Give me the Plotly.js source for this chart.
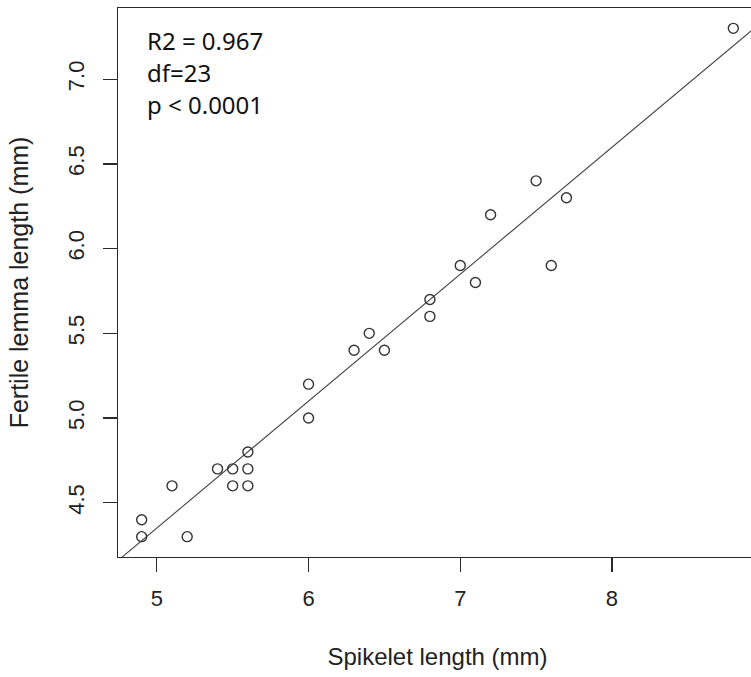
<!DOCTYPE html>
<html>
<head>
<meta charset="utf-8">
<script src="https://cdn.plot.ly/plotly-3.0.1.min.js"></script>
<style>
html, body { margin: 0; padding: 0; overflow: hidden; background: #fff; }
#chart { width: 760px; height: 677px; }
</style>
</head>
<body>
<div id="chart"></div>
<script>
// Data
const spikeletLength = [4.9, 4.9, 5.1, 5.2, 5.4, 5.5, 5.5, 5.6, 5.6, 5.6, 6.0, 6.0, 6.3, 6.4, 6.5, 6.8, 6.8, 7.0, 7.1, 7.2, 7.5, 7.6, 7.7, 8.8];
const lemmaLength    = [4.4, 4.3, 4.6, 4.3, 4.7, 4.7, 4.6, 4.8, 4.7, 4.6, 5.2, 5.0, 5.4, 5.5, 5.4, 5.7, 5.6, 5.9, 5.8, 6.2, 6.4, 5.9, 6.3, 7.3];
const fitIntercept = 0.606;
const fitSlope = 0.749;
const statsLines = ["R2 = 0.967", "df=23", "p < 0.0001"];
const xTicks = [5, 6, 7, 8];
const yTicks = [4.5, 5.0, 5.5, 6.0, 6.5, 7.0];
const yTickText = ["4.5", "5.0", "5.5", "6.0", "6.5", "7.0"];

const xRange = [4.744, 8.956];
const yRange = [4.18, 7.42];

const lineX = [xRange[0] - 1, xRange[1] + 1];
const lineY = lineX.map(x => fitIntercept + fitSlope * x);

const ink = '#2a2a2a';
const tickFont = { family: 'Liberation Sans, Arial, sans-serif', size: 22, color: '#222' };
const xTitleFont = { family: 'Liberation Sans, Arial, sans-serif', size: 24, color: '#222' };
const yTitleFont = { family: 'Liberation Sans, Arial, sans-serif', size: 25, color: '#222' };

const traces = [
  {
    x: lineX, y: lineY, mode: 'lines', type: 'scatter',
    line: { color: '#444', width: 1.1 }, hoverinfo: 'skip'
  },
  {
    x: spikeletLength, y: lemmaLength, mode: 'markers', type: 'scatter',
    marker: { symbol: 'circle-open', size: 10, color: '#333', line: { width: 1.4, color: '#333' } }
  }
];

const annotations = statsLines.map((t, i) => ({
  text: t, xref: 'paper', yref: 'paper', x: 0.043, y: 0.940 - i * 0.0583,
  xanchor: 'left', yanchor: 'middle', showarrow: false,
  font: { family: 'Noto Sans, Open Sans, sans-serif', size: 24, color: '#111' }
}));

const layout = {
  width: 760, height: 677,
  margin: { l: 118, r: 3.4, t: 8, b: 120 },
  paper_bgcolor: '#fff', plot_bgcolor: '#fff',
  showlegend: false,
  xaxis: {
    range: xRange, tickvals: xTicks, ticktext: xTicks.map(String),
    showgrid: false, zeroline: false, automargin: false,
    showline: true, mirror: true, linecolor: ink, linewidth: 1.3,
    ticks: 'outside', ticklen: 14, tickwidth: 1.3, tickcolor: ink,
    ticklabelstandoff: 7,
    tickfont: tickFont,
    title: { text: 'Spikelet length (mm)', standoff: 38, font: xTitleFont }
  },
  yaxis: {
    range: yRange, tickvals: yTicks, ticktext: yTickText, tickangle: -90,
    showgrid: false, zeroline: false, automargin: false,
    showline: true, mirror: true, linecolor: ink, linewidth: 1.3,
    ticks: 'outside', ticklen: 14, tickwidth: 1.3, tickcolor: ink,
    ticklabelstandoff: 10,
    tickfont: tickFont,
    title: { text: 'Fertile lemma length (mm)', standoff: 28, font: yTitleFont }
  },
  annotations: annotations
};

Plotly.newPlot('chart', traces, layout, { staticPlot: true, displayModeBar: false });
</script>
</body>
</html>
